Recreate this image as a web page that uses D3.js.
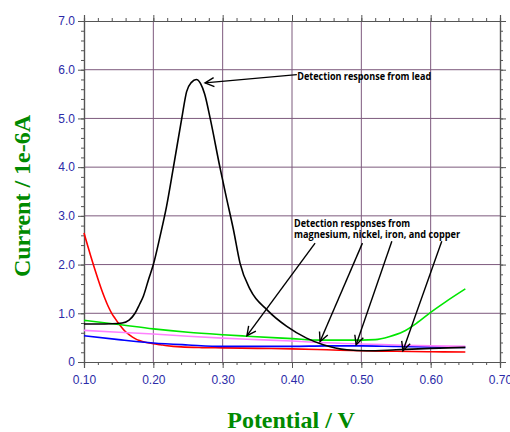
<!DOCTYPE html>
<html>
<head>
<meta charset="utf-8">
<script src="https://cdn.jsdelivr.net/npm/d3@7"></script>
<style>
  body { margin: 0; background: #fff; }
  svg { display: block; }
</style>
</head>
<body>
<div id="chart"></div>
<script>
// tick labels
var xTicks = [0.10, 0.20, 0.30, 0.40, 0.50, 0.60, 0.70];
var yTicks = [0, 1, 2, 3, 4, 5, 6, 7];

// series: [potential V, current 1e-6A]
var lead = [[0.10,0.78],[0.12,0.78],[0.14,0.785],[0.155,0.80],[0.165,0.86],[0.1736,1.0],[0.18,1.18],
  [0.1856,1.35],[0.193,1.69],[0.200,2.0],[0.21,2.6],[0.219,3.19],[0.229,4.0],[0.241,5.0],[0.248,5.55],
  [0.255,5.74],[0.262,5.80],[0.268,5.72],[0.274,5.50],[0.282,5.0],[0.296,4.0],[0.305,3.4],[0.3155,2.72],
  [0.325,2.03],[0.34,1.48],[0.364,1.07],[0.3925,0.73],[0.421,0.49],[0.445,0.355],[0.479,0.25],
  [0.508,0.23],[0.55,0.25],[0.60,0.28],[0.65,0.30]];
var green = [[0.10,0.855],[0.15,0.77],[0.20,0.68],[0.25,0.61],[0.30,0.56],[0.335,0.53],[0.40,0.48],
  [0.44,0.45],[0.50,0.45],[0.52,0.46],[0.54,0.52],[0.56,0.62],[0.58,0.80],[0.60,1.02],[0.62,1.22],[0.65,1.50]];
var pink = [[0.10,0.65],[0.15,0.61],[0.20,0.575],[0.25,0.53],[0.30,0.49],[0.35,0.46],[0.40,0.43],
  [0.44,0.40],[0.50,0.37],[0.55,0.35],[0.60,0.33],[0.65,0.32]];
var blue = [[0.10,0.54],[0.15,0.46],[0.20,0.39],[0.25,0.35],[0.30,0.32],[0.35,0.32],[0.40,0.32],
  [0.45,0.33],[0.50,0.33],[0.55,0.32],[0.60,0.31],[0.65,0.30]];
var red = [[0.100,2.65],[0.105,2.40],[0.110,2.16],[0.115,1.93],[0.120,1.71],[0.125,1.50],[0.130,1.31],
  [0.135,1.14],[0.140,1.00],[0.145,0.89],[0.150,0.79],[0.155,0.70],[0.160,0.62],[0.165,0.56],
  [0.170,0.51],[0.175,0.47],[0.180,0.44],[0.190,0.40],[0.200,0.375],[0.210,0.355],[0.22,0.335],
  [0.24,0.31],[0.27,0.295],[0.30,0.29],[0.35,0.28],[0.40,0.27],[0.45,0.25],[0.50,0.23],[0.55,0.22],
  [0.60,0.21],[0.65,0.205]];

var series = [
  {name: 'red', data: red, color: '#ff0000'},
  {name: 'blue', data: blue, color: '#0000ff'},
  {name: 'pink', data: pink, color: '#ff80ff'},
  {name: 'green', data: green, color: '#00e600'},
  {name: 'lead', data: lead, color: '#000000'}
];

// annotations in data units: tail -> tip
var leadArrow = {from: [0.407, 5.90], to: [0.2746, 5.73]};
var groupArrows = [
  {from: [0.4333, 2.44], to: [0.335, 0.54]},
  {from: [0.5016, 2.44], to: [0.4405, 0.42]},
  {from: [0.544, 2.48], to: [0.4925, 0.355]},
  {from: [0.616, 2.48], to: [0.56, 0.23]}
];

var W = 510, H = 432;
var margin = {top: 21, right: 10, bottom: 70, left: 84},
    width = W - margin.left - margin.right,
    height = 362 - margin.top;

var svg = d3.select('#chart').append('svg')
    .attr('width', W).attr('height', H);
var g = svg.append('g')
    .attr('transform', 'translate(' + margin.left + ',' + margin.top + ')');

var x = d3.scaleLinear().domain([0.10, 0.70]).range([0, width]);
var y = d3.scaleLinear().domain([0, 7]).range([height, 0]);

var gridColor = '#7d5a7d';
// grid
g.append('g').selectAll('line.v')
  .data(xTicks.slice(1, -1)).enter().append('line')
    .attr('x1', function(d) { return x(d); }).attr('x2', function(d) { return x(d); })
    .attr('y1', 0).attr('y2', height)
    .attr('stroke', gridColor).attr('stroke-width', 1);
g.append('g').selectAll('line.h')
  .data(yTicks.slice(1, -1)).enter().append('line')
    .attr('y1', function(d) { return y(d); }).attr('y2', function(d) { return y(d); })
    .attr('x1', 0).attr('x2', width)
    .attr('stroke', gridColor).attr('stroke-width', 1);

// axes with minor ticks
var axisColor = '#555';
var xMinor = d3.range(0, 31).map(function(i) { return 0.10 + i * 0.02; });
var yMinor = d3.range(0, 36).map(function(i) { return i * 0.2; });

function styleAxis(sel) {
  sel.select('.domain').attr('stroke', axisColor).attr('stroke-width', 1.2);
  sel.selectAll('.tick line').attr('stroke', axisColor);
}

var bottom = g.append('g').attr('transform', 'translate(0,' + height + ')')
  .call(d3.axisBottom(x).tickValues(xTicks).tickSize(6).tickFormat(d3.format('.2f')));
g.append('g').attr('transform', 'translate(0,' + height + ')')
  .call(d3.axisBottom(x).tickValues(xMinor).tickSize(3).tickFormat(''))
  .call(styleAxis);
var left = g.append('g')
  .call(d3.axisLeft(y).tickValues(yTicks).tickSize(6)
    .tickFormat(function(d) { return d === 0 ? '0' : d3.format('.1f')(d); }));
g.append('g').call(d3.axisLeft(y).tickValues(yMinor).tickSize(3).tickFormat('')).call(styleAxis);
g.append('g').call(d3.axisTop(x).tickValues(xTicks).tickSize(6).tickFormat('')).call(styleAxis);
g.append('g').call(d3.axisTop(x).tickValues(xMinor).tickSize(3).tickFormat('')).call(styleAxis);
g.append('g').attr('transform', 'translate(' + width + ',0)')
  .call(d3.axisRight(y).tickValues(yTicks).tickSize(6).tickFormat('')).call(styleAxis);
g.append('g').attr('transform', 'translate(' + width + ',0)')
  .call(d3.axisRight(y).tickValues(yMinor).tickSize(3).tickFormat('')).call(styleAxis);

[bottom, left].forEach(function(a) {
  styleAxis(a);
  a.selectAll('text')
    .attr('fill', '#2b2ba8')
    .style('font-family', '"Liberation Sans", Arial, sans-serif')
    .style('font-size', '12px');
});
bottom.selectAll('text').attr('dy', '1.05em');
left.selectAll('text').attr('x', -9);

// curves
var line = d3.line()
  .x(function(d) { return x(d[0]); })
  .y(function(d) { return y(d[1]); })
  .curve(d3.curveMonotoneX);

g.selectAll('path.curve')
  .data(series).enter().append('path')
    .attr('class', 'curve')
    .attr('d', function(d) { return line(d.data); })
    .attr('fill', 'none')
    .attr('stroke', function(d) { return d.color; })
    .attr('stroke-width', 1.6);

// arrows
svg.append('defs').append('marker')
    .attr('id', 'head')
    .attr('markerUnits', 'userSpaceOnUse')
    .attr('viewBox', '-10 -6 12 12')
    .attr('refX', 0).attr('refY', 0)
    .attr('markerWidth', 12).attr('markerHeight', 12)
    .attr('orient', 'auto')
  .append('path')
    .attr('d', 'M-9,-4.5L0,0L-9,4.5')
    .attr('fill', 'none').attr('stroke', '#000').attr('stroke-width', 1.4);

g.selectAll('line.arrow')
  .data([leadArrow].concat(groupArrows)).enter().append('line')
    .attr('x1', function(d) { return x(d.from[0]); })
    .attr('y1', function(d) { return y(d.from[1]); })
    .attr('x2', function(d) { return x(d.to[0]); })
    .attr('y2', function(d) { return y(d.to[1]); })
    .attr('stroke', '#000').attr('stroke-width', 1.4)
    .attr('marker-end', 'url(#head)');

// annotation text
var annFont = '"Open Sans", "DejaVu Sans", sans-serif';
function note(txt, xv, yv, len) {
  g.append('text')
    .attr('x', x(xv)).attr('y', y(yv))
    .attr('textLength', len).attr('lengthAdjust', 'spacingAndGlyphs')
    .style('font-family', annFont).style('font-weight', 'bold').style('font-size', '10px')
    .attr('fill', '#000')
    .text(txt);
}
note('Detection response from lead', 0.4075, 5.78, 134);
note('Detection responses from', 0.403, 2.77, 116);
note('magnesium, nickel, iron, and copper', 0.403, 2.545, 166);

// axis titles
svg.append('text')
  .attr('x', 291).attr('y', 428)
  .attr('text-anchor', 'middle')
  .style('font-family', '"Liberation Serif", "Times New Roman", serif')
  .style('font-weight', 'bold').style('font-size', '24px')
  .attr('fill', '#008a00')
  .text('Potential / V');
svg.append('text')
  .attr('transform', 'translate(30,196) rotate(-90)')
  .attr('text-anchor', 'middle')
  .style('font-family', '"Liberation Serif", "Times New Roman", serif')
  .style('font-weight', 'bold').style('font-size', '24px')
  .attr('fill', '#008a00')
  .text('Current / 1e-6A');
</script>
</body>
</html>
